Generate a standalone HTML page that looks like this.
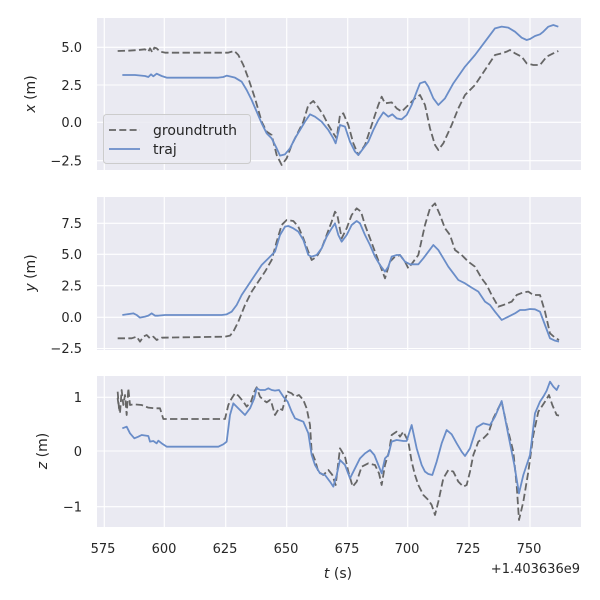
<!DOCTYPE html>
<html><head><meta charset="utf-8"><style>
html,body{margin:0;padding:0;background:#fff;}
svg{display:block;font-family:"DejaVu Sans","Liberation Sans",sans-serif;}
</style></head><body>
<svg width="600" height="600" viewBox="0 0 600 600" xmlns="http://www.w3.org/2000/svg">
<rect x="97" y="18" width="484" height="152" fill="#eaeaf2"/>
<rect x="97" y="197" width="484" height="153" fill="#eaeaf2"/>
<rect x="97" y="376" width="484" height="151" fill="#eaeaf2"/>
<g stroke="#fff" stroke-width="1.1">
<line x1="104.3" x2="104.3" y1="18" y2="170"/><line x1="164.3" x2="164.3" y1="18" y2="170"/><line x1="225.7" x2="225.7" y1="18" y2="170"/><line x1="286.7" x2="286.7" y1="18" y2="170"/><line x1="347.7" x2="347.7" y1="18" y2="170"/><line x1="407.7" x2="407.7" y1="18" y2="170"/><line x1="469" x2="469" y1="18" y2="170"/><line x1="530" x2="530" y1="18" y2="170"/>
<line x1="104.3" x2="104.3" y1="197" y2="350"/><line x1="164.3" x2="164.3" y1="197" y2="350"/><line x1="225.7" x2="225.7" y1="197" y2="350"/><line x1="286.7" x2="286.7" y1="197" y2="350"/><line x1="347.7" x2="347.7" y1="197" y2="350"/><line x1="407.7" x2="407.7" y1="197" y2="350"/><line x1="469" x2="469" y1="197" y2="350"/><line x1="530" x2="530" y1="197" y2="350"/>
<line x1="104.3" x2="104.3" y1="376" y2="527"/><line x1="164.3" x2="164.3" y1="376" y2="527"/><line x1="225.7" x2="225.7" y1="376" y2="527"/><line x1="286.7" x2="286.7" y1="376" y2="527"/><line x1="347.7" x2="347.7" y1="376" y2="527"/><line x1="407.7" x2="407.7" y1="376" y2="527"/><line x1="469" x2="469" y1="376" y2="527"/><line x1="530" x2="530" y1="376" y2="527"/>
<line x1="97" x2="581" y1="47.3" y2="47.3"/><line x1="97" x2="581" y1="85" y2="85"/><line x1="97" x2="581" y1="122.3" y2="122.3"/><line x1="97" x2="581" y1="160.7" y2="160.7"/>
<line x1="97" x2="581" y1="223.3" y2="223.3"/><line x1="97" x2="581" y1="254.3" y2="254.3"/><line x1="97" x2="581" y1="285.7" y2="285.7"/><line x1="97" x2="581" y1="317.3" y2="317.3"/><line x1="97" x2="581" y1="348.5" y2="348.5"/>
<line x1="97" x2="581" y1="397.3" y2="397.3"/><line x1="97" x2="581" y1="451" y2="451"/><line x1="97" x2="581" y1="506.7" y2="506.7"/>
</g>
<g font-size="13" fill="#262626" text-anchor="end">
<text x="82" y="52">5.0</text><text x="82" y="90">2.5</text><text x="82" y="127">0.0</text><text x="82" y="165.5">−2.5</text>
<text x="82" y="228">7.5</text><text x="82" y="259">5.0</text><text x="82" y="290.5">2.5</text><text x="82" y="322">0.0</text><text x="82" y="353">−2.5</text>
<text x="82" y="402">1</text><text x="82" y="456">0</text><text x="82" y="511.5">−1</text>
</g>
<g font-size="13" fill="#262626" text-anchor="middle">
<text x="103" y="553">575</text><text x="164" y="553">600</text><text x="225" y="553">625</text><text x="286" y="553">650</text><text x="347" y="553">675</text><text x="407" y="553">700</text><text x="468" y="553">725</text><text x="529" y="553">750</text>
</g>
<text x="580" y="573" font-size="13" fill="#262626" text-anchor="end">+1.403636e9</text>
<text x="338" y="578" font-size="14" fill="#262626" text-anchor="middle"><tspan font-style="italic">t</tspan> (s)</text>
<text transform="translate(35,94) rotate(-90)" font-size="14" fill="#262626" text-anchor="middle"><tspan font-style="italic">x</tspan> (m)</text>
<text transform="translate(35,273) rotate(-90)" font-size="14" fill="#262626" text-anchor="middle"><tspan font-style="italic">y</tspan> (m)</text>
<text transform="translate(47,451) rotate(-90)" font-size="14" fill="#262626" text-anchor="middle"><tspan font-style="italic">z</tspan> (m)</text>

<g fill="none" stroke-linejoin="round" stroke-width="5.4">
<g transform="translate(95,15) scale(0.33333)">
<polyline stroke="#666666" stroke-dasharray="22,10" points="68,108 100,107 130,105 150,103 160,110 165,100 172,112 178,98 185,100 195,110 210,113 400,113 418,108 430,120 445,150 460,190 480,250 500,320 515,350 530,360 545,420 560,450 575,430 590,390 610,350 625,320 640,270 655,258 665,270 685,300 700,330 715,355 725,370 735,300 745,295 760,330 775,385 790,420 810,390 830,330 850,270 860,245 870,265 890,262 905,280 920,290 940,270 960,250 975,240 990,270 1005,340 1020,390 1030,405 1045,385 1070,330 1090,280 1110,240 1140,210 1160,180 1180,150 1200,120 1220,115 1235,110 1245,105 1260,115 1280,125 1295,145 1315,150 1335,150 1355,125 1375,115 1390,108"/>
<polyline stroke="#6a8dc8" points="82,180 120,180 150,183 160,186 168,178 175,184 185,176 200,183 215,188 370,188 385,186 395,182 420,188 440,200 455,225 470,255 485,290 500,325 515,355 530,370 545,400 555,422 570,418 585,400 600,370 615,345 630,320 645,298 660,305 680,320 700,345 715,370 722,385 735,330 750,335 765,380 780,410 790,420 805,400 820,380 835,345 850,315 865,292 880,305 892,298 905,310 920,313 935,300 950,270 965,230 975,205 990,200 1000,215 1015,250 1030,270 1050,250 1075,205 1110,155 1140,120 1170,80 1200,40 1220,35 1240,38 1260,50 1280,68 1295,75 1305,72 1320,63 1335,58 1345,50 1360,35 1375,30 1390,35"/>
</g>
<g transform="translate(95,195) scale(0.33333)">
<polyline stroke="#666666" stroke-dasharray="22,10" points="68,430 110,430 125,425 135,440 145,425 155,420 165,430 175,425 185,435 200,428 390,425 405,422 415,410 430,380 450,330 470,290 490,260 510,230 530,195 545,140 560,90 575,75 595,78 610,95 625,130 640,170 650,195 665,185 680,160 695,120 710,80 720,50 727,60 740,130 755,100 770,60 785,40 798,50 810,90 825,130 840,170 855,210 870,250 885,200 900,185 915,180 930,200 940,220 955,200 970,180 990,90 1005,40 1020,25 1035,60 1050,100 1065,120 1080,165 1100,180 1120,200 1140,215 1160,250 1175,270 1190,300 1210,335 1225,330 1250,320 1265,300 1285,292 1300,290 1315,300 1335,300 1350,350 1365,415 1380,428 1392,435"/>
<polyline stroke="#6a8dc8" points="82,360 115,355 125,360 135,368 150,365 160,362 170,355 180,362 190,362 210,360 380,360 395,358 410,350 425,330 440,300 460,270 480,240 500,210 520,190 540,170 555,120 570,95 580,93 595,100 610,110 625,135 640,180 650,185 665,180 680,160 695,125 710,100 720,85 730,120 740,140 755,120 770,90 785,78 795,85 810,120 825,150 840,185 855,210 870,230 880,215 890,185 905,180 915,180 930,200 945,208 970,208 985,190 1000,170 1015,150 1030,165 1045,190 1060,215 1075,235 1090,255 1110,265 1130,278 1150,290 1170,320 1185,330 1200,350 1220,375 1240,365 1260,355 1275,345 1290,345 1305,342 1320,343 1335,350 1350,390 1365,430 1380,437 1392,440"/>
</g>
<g transform="translate(95,375) scale(0.33333)">
<polyline stroke="#666666" stroke-dasharray="22,10" points="68,50 72,100 68,70 75,115 80,45 85,90 90,60 95,120 100,40 105,90 115,88 140,90 160,98 180,100 195,100 205,132 390,132 400,90 410,70 420,55 430,62 445,80 455,95 468,80 478,50 485,37 495,65 505,75 515,82 525,75 530,85 540,120 552,100 562,105 570,75 578,50 590,55 600,65 612,60 625,75 635,100 645,150 650,230 660,255 670,290 685,300 700,285 712,300 722,330 735,220 750,245 760,290 773,335 785,320 800,275 820,265 840,270 852,295 860,330 870,270 882,230 890,180 905,170 915,185 925,170 940,200 950,260 960,300 970,330 985,360 1000,375 1010,390 1020,420 1030,380 1045,310 1060,285 1075,290 1090,320 1105,335 1115,330 1125,290 1135,240 1150,200 1165,190 1180,175 1195,130 1210,100 1220,80 1235,150 1255,230 1265,330 1272,435 1285,380 1300,290 1315,180 1330,110 1350,80 1362,60 1372,90 1385,120 1392,122"/>
<polyline stroke="#6a8dc8" points="82,160 95,155 105,175 118,190 130,185 140,180 160,183 165,200 175,198 185,205 190,197 200,205 215,215 370,215 385,208 395,200 405,120 415,85 430,100 450,120 465,100 478,70 485,40 495,45 510,45 520,40 530,45 540,47 552,45 565,65 578,80 590,110 600,130 612,135 625,140 640,175 650,240 660,270 675,295 690,300 705,320 715,335 725,300 735,255 750,270 765,310 780,280 795,250 810,235 825,225 838,240 850,270 860,295 870,250 880,240 890,200 905,195 925,198 935,198 950,150 965,220 980,270 990,290 1000,297 1012,300 1025,260 1040,205 1055,165 1070,178 1085,205 1100,230 1110,243 1125,220 1145,157 1165,145 1185,150 1200,125 1220,78 1240,180 1258,270 1272,355 1285,300 1305,240 1320,115 1335,80 1345,65 1355,47 1365,20 1375,35 1385,45 1392,30"/>
</g>
</g>
<rect x="103.5" y="114.5" width="147" height="49" rx="3" fill="#eaeaf2" fill-opacity="0.85" stroke="#cccccc" stroke-width="1"/>
<line x1="109" x2="140" y1="130" y2="130" stroke="#666666" stroke-width="1.8" stroke-dasharray="7,3.3"/>
<line x1="109" x2="140" y1="149" y2="149" stroke="#6a8dc8" stroke-width="1.8"/>
<text x="153" y="135" font-size="14" fill="#262626">groundtruth</text>
<text x="153" y="154" font-size="14" fill="#262626">traj</text>
</svg>
</body></html>
